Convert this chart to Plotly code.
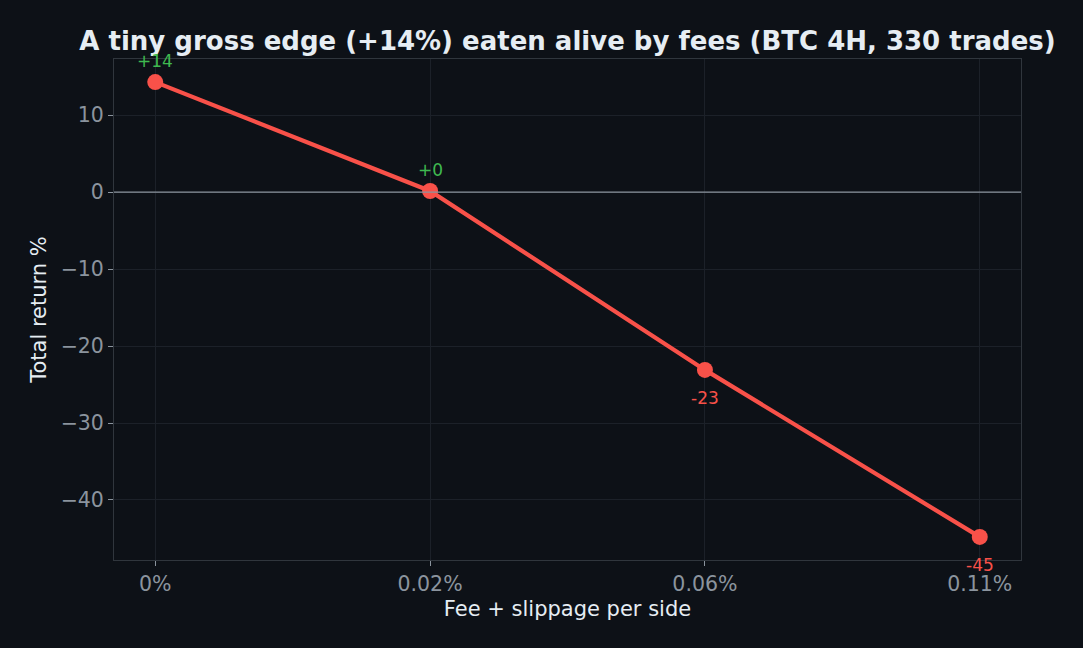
import plotly.graph_objects as go

# fee/slippage per side vs total strategy return
fee_labels = ['0%', '0.02%', '0.06%', '0.11%']
total_return = [14.3, 0.15, -23.1, -44.8]
point_labels = ['+14', '+0', '-23', '-45']

BG = '#0d1117'
RED = '#f85149'
GREEN = '#3fb950'
GRID = '#1c2129'
SPINE = '#30363d'
TICK = '#8b949e'
TEXT = '#e6edf3'

fig = go.Figure()

fig.add_trace(go.Scatter(
    x=list(range(len(fee_labels))),
    y=total_return,
    mode='lines+markers',
    line=dict(color=RED, width=4.2),
    marker=dict(color=RED, size=16),
    hoverinfo='skip',
    showlegend=False
))

# value labels: green above for >= 0, red below for losses
for i, (val, lab) in enumerate(zip(total_return, point_labels)):
    pos = val >= 0
    fig.add_annotation(
        x=i, y=val, text=lab, showarrow=False,
        yshift=21 if pos else -28,
        font=dict(color=GREEN if pos else RED, size=17)
    )

fig.add_hline(y=0, line=dict(color=TICK, width=1.2))

fig.update_layout(
    width=1083, height=648,
    title=dict(
        text='<b>A tiny gross edge (+14%) eaten alive by fees (BTC 4H, 330 trades)</b>',
        x=0.5, xref='paper', xanchor='center',
        y=1 - 41 / 648, yref='container', yanchor='middle',
        font=dict(size=26, color=TEXT)
    ),
    font=dict(family='DejaVu Sans', color=TICK, size=20.5),
    paper_bgcolor=BG,
    plot_bgcolor=BG,
    margin=dict(l=114, r=62, t=59, b=88),
    xaxis=dict(
        range=[-0.15, 3.15],
        tickvals=list(range(len(fee_labels))),
        ticktext=fee_labels,
        title=dict(text='Fee + slippage per side', font=dict(color=TEXT, size=21), standoff=6),
        showgrid=True, gridcolor=GRID, gridwidth=1,
        showline=True, linecolor=SPINE, mirror=True,
        ticks='outside', ticklen=5, tickcolor=TICK,
        zeroline=False
    ),
    yaxis=dict(
        range=[-47.8, 17.3],
        tickvals=[10, 0, -10, -20, -30, -40],
        title=dict(text='Total return %', font=dict(color=TEXT, size=21), standoff=8),
        showgrid=True, gridcolor=GRID, gridwidth=1,
        showline=True, linecolor=SPINE, mirror=True,
        ticks='outside', ticklen=5, tickcolor=TICK,
        zeroline=False
    )
)

fig.write_html(
    'out.html',
    config={'displayModeBar': False},
    post_script="document.body.style.margin='0';document.body.style.background='#0d1117';"
)
